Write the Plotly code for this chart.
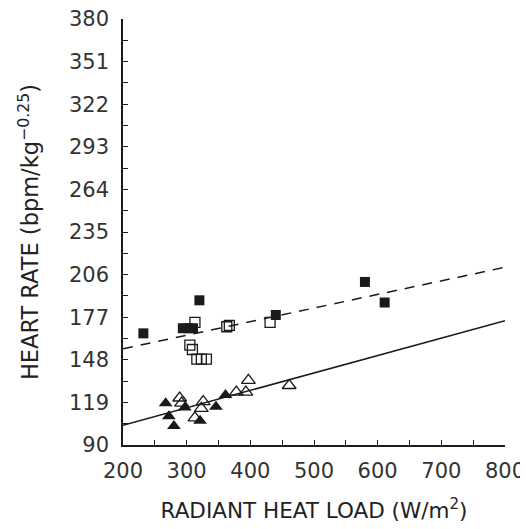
import plotly.graph_objects as go

# radiant heat load (W/m2) vs heart rate (bpm/kg^-0.25)
sq_fill_x = [232, 294, 302, 310, 320, 440, 580, 611]
sq_fill_y = [166, 169.5, 169.5, 169.5, 188.5, 178.5, 201, 187]

sq_open_x = [313, 305, 309, 316, 323, 331, 363, 367, 431]
sq_open_y = [173.5, 158, 155, 148.5, 148.5, 148.5, 170.5, 171.5, 173.5]

tri_fill_x = [267, 272, 280, 297, 321, 346, 361]
tri_fill_y = [118.5, 109.5, 103, 115.5, 106.5, 116, 124]

tri_open_x = [289, 292, 313, 323, 326, 378, 393, 397, 461]
tri_open_y = [122, 118.5, 108.5, 115, 119.5, 126, 126, 134, 130.5]

# regression lines (end points)
line_x = [200, 800]
dash_y = [155.5, 211]
solid_y = [103.5, 174.6]

y_ticks = [90, 119, 148, 177, 206, 235, 264, 293, 322, 351, 380]
x_ticks = [200, 300, 400, 500, 600, 700, 800]

fnt = "DejaVu Sans"
ink = "#1a1a1a"

fig = go.Figure()
fig.add_trace(go.Scatter(x=line_x, y=dash_y, mode="lines",
                         line=dict(color=ink, width=1.5, dash="10px,8px")))
fig.add_trace(go.Scatter(x=line_x, y=solid_y, mode="lines",
                         line=dict(color=ink, width=1.5)))
fig.add_trace(go.Scatter(x=sq_fill_x, y=sq_fill_y, mode="markers",
                         marker=dict(symbol="square", size=10, color=ink)))
fig.add_trace(go.Scatter(x=sq_open_x, y=sq_open_y, mode="markers",
                         marker=dict(symbol="square-open", size=10, color=ink,
                                     line=dict(width=1.3))))
fig.add_trace(go.Scatter(x=tri_fill_x, y=tri_fill_y, mode="markers",
                         marker=dict(symbol="triangle-up", size=12, color=ink)))
fig.add_trace(go.Scatter(x=tri_open_x, y=tri_open_y, mode="markers",
                         marker=dict(symbol="triangle-up-open", size=12, color=ink,
                                     line=dict(width=1.3))))

axis_common = dict(showline=True, linecolor=ink, linewidth=1.5, ticks="inside",
                   ticklen=5, tickcolor=ink, tickwidth=1.2, showgrid=False,
                   zeroline=False, automargin=False, ticklabeloverflow="allow",
                   tickfont=dict(family=fnt, size=21, color="#333"))

fig.update_xaxes(range=[200, 800], tickvals=x_ticks, ticklabelstandoff=6,
                 minor=dict(dtick=50, tick0=200, ticks="inside", ticklen=5,
                            tickcolor=ink, tickwidth=1.2, showgrid=False),
                 title=dict(text="RADIANT HEAT LOAD (W/m<sup>2</sup>)",
                            font=dict(family=fnt, size=21.5, color="#222"), standoff=21),
                 **axis_common)
fig.update_yaxes(range=[90, 380], tickvals=y_ticks, ticklabelstandoff=8,
                 minor=dict(dtick=14.5, tick0=90, ticks="inside", ticklen=5,
                            tickcolor=ink, tickwidth=1.2, showgrid=False),
                 title=dict(text="HEART RATE (bpm/kg<sup>\u22120.25</sup>)",
                            font=dict(family=fnt, size=22.5, color="#222"), standoff=24),
                 **axis_common)

# page body adds ~8px offset, so margins are shifted up/left to compensate
fig.update_layout(width=528, height=529, showlegend=False,
                  margin=dict(l=115, r=31, t=11, b=92),
                  plot_bgcolor="white", paper_bgcolor="white")

fig.write_html("out.html")
